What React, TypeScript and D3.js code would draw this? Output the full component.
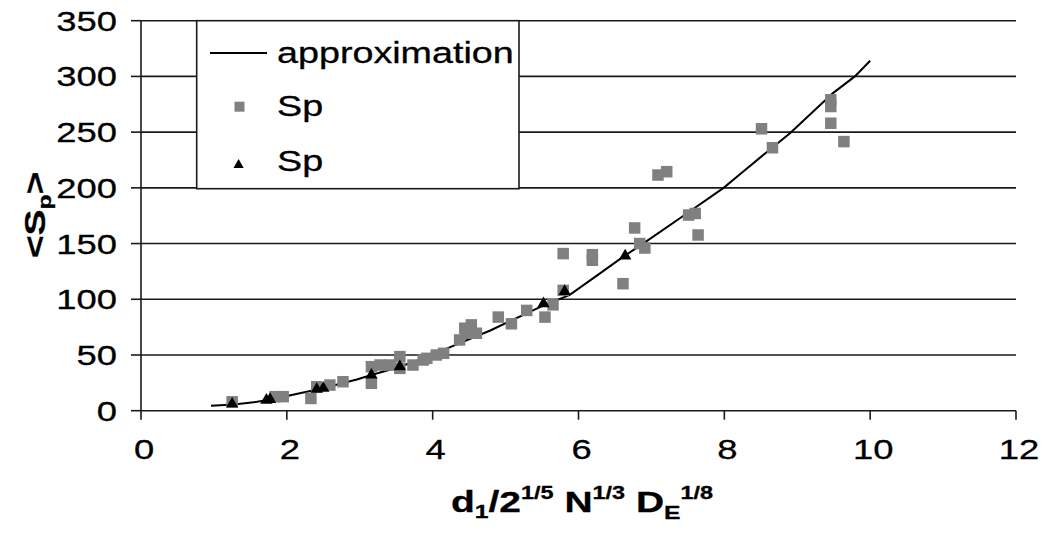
import React from "react";
import * as d3 from "d3";

const xTicks = [0, 2, 4, 6, 8, 10, 12];
const yTicks = [0, 50, 100, 150, 200, 250, 300, 350];

const approxX = [0.96, 1.27, 1.59, 1.77, 2.13, 2.45, 2.96, 3.16, 3.55, 3.87, 4.1, 4.24, 4.79, 5.47, 5.88, 6.29, 6.61, 6.93, 7.44, 7.99, 8.21, 8.58, 8.9, 9.49, 9.79, 10.0];
const approxY = [4.5, 5.5, 8, 9.8, 15, 19.5, 28, 32, 39.5, 47, 53, 57, 72, 93, 104, 123, 138, 152, 175, 200, 212, 232, 249, 285, 300, 314];

const squareX = [1.25, 1.84, 1.95, 2.33, 2.41, 2.59, 2.77, 3.16, 3.16, 3.28, 3.41, 3.55, 3.55, 3.73, 3.87, 3.92, 4.05, 4.15, 4.37, 4.44, 4.53, 4.47, 4.6, 4.9, 5.08, 5.29, 5.54, 5.65, 5.79, 5.79, 6.19, 6.19, 6.61, 6.77, 6.84, 6.91, 7.09, 7.21, 7.51, 7.6, 7.64, 8.51, 8.66, 9.46, 9.46, 9.46, 9.64];
const squareY = [8, 12.6, 12.6, 11, 21.5, 23, 26, 39.5, 24.6, 41, 41, 48.5, 38, 41, 45.5, 47, 50, 51.5, 63.5, 74, 77, 69.5, 69.5, 84, 78, 90, 84, 95, 108, 141, 140, 135, 114, 164, 150, 146, 211.5, 214.5, 175.6, 177, 157.7, 253, 236, 279, 273, 258, 241.5];

const triX = [1.25, 1.72, 1.77, 2.41, 2.5, 3.16, 3.55, 5.52, 5.81, 6.64];
const triY = [6, 9.5, 10.2, 19.2, 20.1, 32, 39.5, 96, 107, 139];

const legendLabels = ["approximation", "Sp", "Sp"];

const W = 1043;
const H = 542;
const FONT = "'Liberation Sans', Arial, sans-serif";
const SX = 1.3;

function ST({ x, y, anchor = "start", fs = 27, weight = "normal", rotate = 0, sx = SX, children }: any) {
  return (
    <text
      transform={`translate(${x},${y}) rotate(${rotate}) scale(${sx},1)`}
      textAnchor={anchor}
      fontSize={fs}
      fontWeight={weight}
      fontFamily={FONT}
      fill="#000"
      stroke="#000"
      strokeWidth={0.3}
    >
      {children}
    </text>
  );
}

export default function App() {
  const x = d3.scaleLinear().domain([0, 12]).range([141, 1016]);
  const y = d3.scaleLinear().domain([0, 350]).range([410.7, 20.7]);

  const lineGen = d3
    .line<number>()
    .x((_, i) => x(approxX[i]))
    .y((_, i) => y(approxY[i]));
  const linePath = lineGen(approxX) || "";

  const tri = d3.symbol().type(d3.symbolTriangle).size(66)() || "";
  const sq = 11.5;

  const lg = { x0: 196.7, y0: 20.7, x1: 519, y1: 188.7 };

  return (
    <svg
      width={W}
      height={H}
      style={{ position: "absolute", left: 0, top: 0, background: "#fff" }}
    >
      <rect x={0} y={0} width={W} height={H} fill="#fff" />
      {/* gridlines */}
      {yTicks.slice(1).map((t) => (
        <line key={"g" + t} x1={x(0)} x2={x(12)} y1={y(t)} y2={y(t)} stroke="#1a1a1a" strokeWidth={1.6} />
      ))}
      {/* axes */}
      <line x1={x(0)} x2={x(0)} y1={y(350)} y2={y(0)} stroke="#1a1a1a" strokeWidth={1.6} />
      <line x1={x(0)} x2={x(12)} y1={y(0)} y2={y(0)} stroke="#1a1a1a" strokeWidth={1.6} />
      {yTicks.map((t) => (
        <line key={"yt" + t} x1={x(0) - 10} x2={x(0)} y1={y(t)} y2={y(t)} stroke="#1a1a1a" strokeWidth={1.6} />
      ))}
      {xTicks.map((t) => (
        <line key={"xt" + t} x1={x(t)} x2={x(t)} y1={y(0)} y2={y(0) + 9} stroke="#1a1a1a" strokeWidth={1.6} />
      ))}
      {yTicks.map((t) => (
        <ST key={"yl" + t} x={117} y={y(t) + 10} anchor="end" fs={28}>
          {String(t)}
        </ST>
      ))}
      {xTicks.map((t) => (
        <ST key={"xl" + t} x={x(t) + 3} y={459} anchor="middle" fs={28}>
          {String(t)}
        </ST>
      ))}

      {/* series */}
      <path d={linePath} fill="none" stroke="#000" strokeWidth={2} />
      {squareX.map((v, i) => (
        <rect key={"s" + i} x={x(v) - sq / 2} y={y(squareY[i]) - sq / 2} width={sq} height={sq} fill="#808080" />
      ))}
      {triX.map((v, i) => (
        <path key={"t" + i} d={tri} transform={`translate(${x(v)},${y(triY[i])})`} fill="#000" />
      ))}

      {/* legend */}
      <rect x={lg.x0} y={lg.y0} width={lg.x1 - lg.x0} height={lg.y1 - lg.y0} fill="#fff" stroke="#1a1a1a" strokeWidth={1.6} />
      <line x1={210} x2={267} y1={53} y2={53} stroke="#000" strokeWidth={2} />
      <ST x={277} y={63} fs={29} sx={1.3}>{legendLabels[0]}</ST>
      <rect x={239.5 - 5} y={106.7 - 5} width={10} height={10} fill="#808080" />
      <ST x={277} y={116} fs={29} sx={1.3}>{legendLabels[1]}</ST>
      <path d={d3.symbol().type(d3.symbolTriangle).size(45)() || ""} transform={`translate(238.6,165)`} fill="#000" />
      <ST x={277} y={171} fs={29} sx={1.3}>{legendLabels[2]}</ST>

      {/* axis titles */}
      <ST x={582} y={512} anchor="middle" fs={30} weight="bold">
        <tspan>d</tspan>
        <tspan fontSize={19} dy={6}>1</tspan>
        <tspan dy={-6}>/2</tspan>
        <tspan fontSize={18} dy={-13}>1/5</tspan>
        <tspan dy={13}> N</tspan>
        <tspan fontSize={18} dy={-13}>1/3</tspan>
        <tspan dy={13}> D</tspan>
        <tspan fontSize={19} dy={7}>E</tspan>
        <tspan fontSize={18} dy={-20}>1/8</tspan>
      </ST>
      <ST x={45} y={215} anchor="middle" fs={30} weight="bold" rotate={-90}>
        <tspan>&lt;S</tspan>
        <tspan fontSize={19} dy={6}>p</tspan>
        <tspan dy={-6}>&gt;</tspan>
      </ST>
    </svg>
  );
}
